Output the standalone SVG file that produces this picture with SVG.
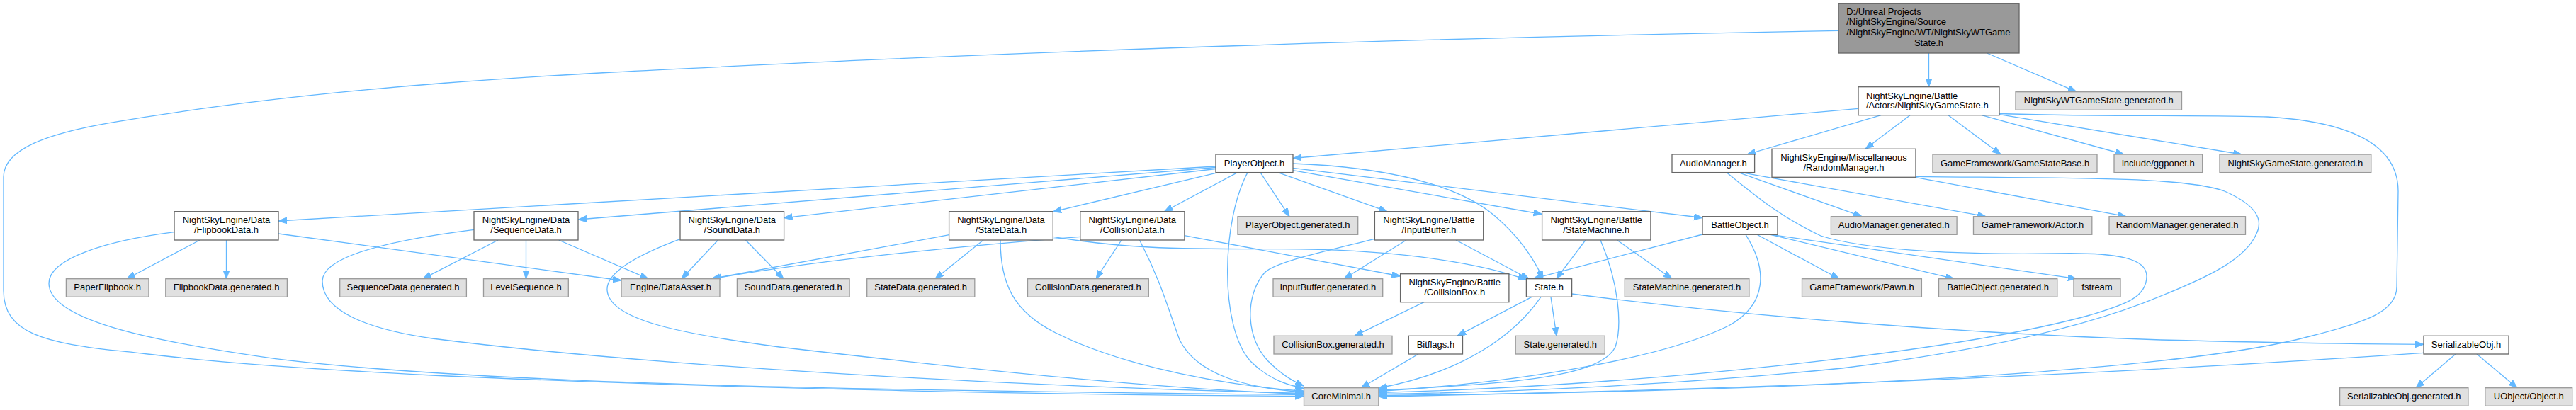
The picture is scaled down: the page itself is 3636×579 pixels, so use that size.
<svg xmlns="http://www.w3.org/2000/svg" width="3636" height="579" viewBox="0 0 3636 579">
<style>
.e path{fill:none;stroke:#63b8ff;stroke-width:1.3;marker-end:url(#a)}
.w rect{fill:#ffffff;stroke:#666666;stroke-width:1.3}
.g rect{fill:#e0e0e0;stroke:#999999;stroke-width:1.3}
.r rect{fill:#999999;stroke:#666666;stroke-width:1.3}
text{font-family:"Liberation Sans",Arial,sans-serif;font-size:13px;fill:#000000}
.m{text-anchor:middle}
</style>
<defs>
<marker id="a" markerUnits="userSpaceOnUse" markerWidth="13" markerHeight="10" refX="12" refY="4.5" orient="auto" viewBox="0 0 13 10">
<path d="M0,0L12,4.5L0,9z" fill="#63b8ff" stroke="#63b8ff" stroke-width="1"/>
</marker>
</defs>
<rect width="3636" height="579" fill="#ffffff"/>
<g id="connectors" class="e">
<path d="M2722.5,75 L2722.5,122.7"/>
<path d="M2804.6,75 L2931,129.7"/>
<path d="M2595,43.3 C2130,51.7 1665,64.8 1200,85.7 C852,102.4 503.6,114.1 155.6,173.3 C70,188 5,210 5,250 L5,410 C5,470 60,485 179,496.7 C240,503 300,514 610,530 C1000,548 1500,558 1840.5,559.5"/>
<path d="M2623,153.3 L1825,223.5"/>
<path d="M2655,162.7 L2466,218"/>
<path d="M2696,162.7 L2633,210.3"/>
<path d="M2750,162.7 L2824,218"/>
<path d="M2797,162.7 L2998,218"/>
<path d="M2822,161.7 L3164,218"/>
<path d="M2822,160.5 C2950,165 3100,162 3200,165 C3320,172 3385,205 3385,270 L3383,405 C3383,440 3340,455 3260,475 C3150,505 2800,550 1946,558.5"/>
<path d="M1716,235 L393,312"/>
<path d="M1716,236.5 L816,310"/>
<path d="M1716,238.5 L1106.5,307.7"/>
<path d="M1719.4,243.6 L1486.3,299"/>
<path d="M1746.6,243.6 L1643.5,298.7"/>
<path d="M1779,243.6 L1820,305.7"/>
<path d="M1761,243.6 C1725,310 1720,460 1765,510 C1790,535 1815,543 1840,548.5"/>
<path d="M1804,243.6 L1958,298.7"/>
<path d="M1825,240.7 L2176.6,302.5"/>
<path d="M1825,237.3 L2403,307.5"/>
<path d="M1825,231 C1960,236 2060,262 2110,305 C2145,335 2165,365 2178,393.7"/>
<path d="M282,339 L179,393.7"/>
<path d="M319.5,339 L319.5,393.7"/>
<path d="M393,330 L877,396"/>
<path d="M246,327.7 C150,340 69,365 69,400 C69,450 200,480 389,506.7 C700,545 1300,552 1840.5,557.5"/>
<path d="M703,339 L597,393.7"/>
<path d="M742.5,339 L742.5,393.7"/>
<path d="M788.7,339 L915,393.7"/>
<path d="M669,324.3 C560,338 455,360 455,397 C455,440 520,465 610,478 C900,515 1400,545 1840.5,555.5"/>
<path d="M1013.5,339 L962,393.7"/>
<path d="M1052.4,339 L1106,393.7"/>
<path d="M960,337.7 C900,360 855,385 857,410 C860,450 950,470 1100,490 C1400,525 1650,550 1840.5,556.5"/>
<path d="M1339.6,331.7 L1004,393.7"/>
<path d="M1388,339 L1320,393.7"/>
<path d="M1486.3,334.3 C1580,350 1650,352 1800,351.7 C1950,351 2080,368 2154.4,395"/>
<path d="M1412,339 C1412,400 1430,440 1490,470 C1560,505 1680,540 1840.5,552.5"/>
<path d="M1524.8,334.3 C1350,348 1150,368 1006,393.7"/>
<path d="M1583,339 L1547,393.7"/>
<path d="M1671.9,332.7 L1976.6,390"/>
<path d="M1608.5,339 C1640,400 1650,440 1665,480 C1690,530 1760,548 1840.5,554"/>
<path d="M1985,339 L1897,393.7"/>
<path d="M2055,339 L2158,393.7"/>
<path d="M1940.4,337.3 C1870,355 1800,370 1785,385 C1755,420 1760,480 1790,510 C1810,530 1825,538 1840,545"/>
<path d="M2238,339 L2196.8,393.7"/>
<path d="M2282.4,339 L2360,393.7"/>
<path d="M2259,339 C2285,400 2290,460 2280,490 C2260,530 2150,542 1946,551"/>
<path d="M2403,331 L2164,393.7"/>
<path d="M2480,331.3 L2596,393.7"/>
<path d="M2499,331.3 L2758,393.7"/>
<path d="M2500,331.3 L2931,393.7"/>
<path d="M2464,331.3 C2495,380 2495,430 2440,460 C2350,505 2150,540 1946,552.5"/>
<path d="M2218.6,415 C2450,445 2750,470 3050,480 C3250,485 3350,486 3421,486.3"/>
<path d="M2162,419.3 L2057,474.3"/>
<path d="M2189,419.3 L2197,474.3"/>
<path d="M2175,419.3 C2140,470 2070,525 1946,548"/>
<path d="M2002,500 L1921,547.7"/>
<path d="M2010,426.7 L1912,474.3"/>
<path d="M2454,243.6 L2628,305.7"/>
<path d="M2458,243.6 L2803,305.7"/>
<path d="M2437,243.6 C2470,270 2510,305 2570,333 C2630,352 2750,360 2900,358 C2990,356 3030,365 3030,390 C3030,420 3000,430 2950,445 C2750,500 2300,545 1946,554.5"/>
<path d="M2703,250.3 L3001,305.7"/>
<path d="M2704,249.3 C2900,252 3080,248 3140,270 C3185,290 3195,310 3185,330 C3170,365 3120,390 3050,418 C2950,460 2800,495 2600,520 C2350,545 2100,555 1946,556.5"/>
<path d="M3466,500 L3410,547.7"/>
<path d="M3496,500 L3553,547.7"/>
<path d="M3421,498.3 C3100,520 2600,548 1946,560"/>
</g>
<g id="n0" class="r"><rect x="2595" y="4.7" width="255" height="70.3"/><text x="2606.2" y="20.7">D:/Unreal Projects</text><text x="2606.2" y="35.4">/NightSkyEngine/Source</text><text x="2606.2" y="50">/NightSkyEngine/WT/NightSkyWTGame</text><text class="m" x="2722.5" y="64.7">State.h</text></g>
<g id="n1" class="w"><rect x="2623" y="122.7" width="199" height="40"/><text x="2634" y="139.7">NightSkyEngine/Battle</text><text x="2634" y="153">/Actors/NightSkyGameState.h</text></g>
<g id="n2" class="g"><rect x="2845" y="129.7" width="234.5" height="25.6"/><text class="m" x="2962.3" y="146.4">NightSkyWTGameState.generated.h</text></g>
<g id="n3" class="w"><rect x="1716" y="218" width="109" height="25.6"/><text class="m" x="1770.5" y="234.5">PlayerObject.h</text></g>
<g id="n4" class="w"><rect x="2360" y="218" width="116.6" height="25.6"/><text class="m" x="2418.3" y="234.5">AudioManager.h</text></g>
<g id="n5" class="w"><rect x="2501" y="210.3" width="203" height="40"/><text class="m" x="2602.5" y="227.2">NightSkyEngine/Miscellaneous</text><text class="m" x="2602.5" y="240.6">/RandomManager.h</text></g>
<g id="n6" class="g"><rect x="2728" y="218" width="232" height="25.6"/><text class="m" x="2844" y="234.5">GameFramework/GameStateBase.h</text></g>
<g id="n7" class="g"><rect x="2984" y="218" width="124.7" height="25.6"/><text class="m" x="3046.3" y="234.5">include/ggponet.h</text></g>
<g id="n8" class="g"><rect x="3133" y="218" width="213.8" height="25.6"/><text class="m" x="3239.9" y="234.5">NightSkyGameState.generated.h</text></g>
<g id="n9" class="w"><rect x="246" y="298.7" width="147" height="40.3"/><text class="m" x="319.5" y="315.4">NightSkyEngine/Data</text><text class="m" x="319.5" y="329">/FlipbookData.h</text></g>
<g id="n10" class="w"><rect x="669" y="298.7" width="147" height="40.3"/><text class="m" x="742.5" y="315.4">NightSkyEngine/Data</text><text class="m" x="742.5" y="329">/SequenceData.h</text></g>
<g id="n11" class="w"><rect x="960" y="298.7" width="146.6" height="40.3"/><text class="m" x="1033.3" y="315.4">NightSkyEngine/Data</text><text class="m" x="1033.3" y="329">/SoundData.h</text></g>
<g id="n12" class="w"><rect x="1339.6" y="298.7" width="146.7" height="40.3"/><text class="m" x="1413" y="315.4">NightSkyEngine/Data</text><text class="m" x="1413" y="329">/StateData.h</text></g>
<g id="n13" class="w"><rect x="1524.8" y="298.7" width="147.1" height="40.3"/><text class="m" x="1598.3" y="315.4">NightSkyEngine/Data</text><text class="m" x="1598.3" y="329">/CollisionData.h</text></g>
<g id="n14" class="g"><rect x="1747" y="305.7" width="169.7" height="25.6"/><text class="m" x="1831.8" y="322.2">PlayerObject.generated.h</text></g>
<g id="n15" class="w"><rect x="1940.4" y="298.7" width="153.3" height="40.3"/><text class="m" x="2017" y="315.4">NightSkyEngine/Battle</text><text class="m" x="2017" y="329">/InputBuffer.h</text></g>
<g id="n16" class="w"><rect x="2176.6" y="298.7" width="153.3" height="40.3"/><text class="m" x="2253.2" y="315.4">NightSkyEngine/Battle</text><text class="m" x="2253.2" y="329">/StateMachine.h</text></g>
<g id="n17" class="w"><rect x="2403" y="305.7" width="106" height="25.6"/><text class="m" x="2456" y="322.2">BattleObject.h</text></g>
<g id="n18" class="g"><rect x="2584.4" y="305.7" width="177.7" height="25.6"/><text class="m" x="2673.2" y="322.2">AudioManager.generated.h</text></g>
<g id="n19" class="g"><rect x="2785.5" y="305.7" width="167.3" height="25.6"/><text class="m" x="2869.1" y="322.2">GameFramework/Actor.h</text></g>
<g id="n20" class="g"><rect x="2977" y="305.7" width="192.5" height="25.6"/><text class="m" x="3073.2" y="322.2">RandomManager.generated.h</text></g>
<g id="n21" class="g"><rect x="93.4" y="393.7" width="116.6" height="25.6"/><text class="m" x="151.7" y="410.2">PaperFlipbook.h</text></g>
<g id="n22" class="g"><rect x="233.8" y="393.7" width="171.6" height="25.6"/><text class="m" x="319.6" y="410.2">FlipbookData.generated.h</text></g>
<g id="n23" class="g"><rect x="479.7" y="393.7" width="178.7" height="25.6"/><text class="m" x="569" y="410.2">SequenceData.generated.h</text></g>
<g id="n24" class="g"><rect x="682.5" y="393.7" width="119.8" height="25.6"/><text class="m" x="742.4" y="410.2">LevelSequence.h</text></g>
<g id="n25" class="g"><rect x="877" y="393.7" width="139" height="25.6"/><text class="m" x="946.5" y="410.2">Engine/DataAsset.h</text></g>
<g id="n26" class="g"><rect x="1040.4" y="393.7" width="158.7" height="25.6"/><text class="m" x="1119.7" y="410.2">SoundData.generated.h</text></g>
<g id="n27" class="g"><rect x="1223.7" y="393.7" width="152.1" height="25.6"/><text class="m" x="1299.7" y="410.2">StateData.generated.h</text></g>
<g id="n28" class="g"><rect x="1450.5" y="393.7" width="170.8" height="25.6"/><text class="m" x="1535.9" y="410.2">CollisionData.generated.h</text></g>
<g id="n29" class="g"><rect x="1797" y="393.7" width="154.7" height="25.6"/><text class="m" x="1874.3" y="410.2">InputBuffer.generated.h</text></g>
<g id="n30" class="w"><rect x="1976.6" y="386.7" width="153.3" height="40"/><text class="m" x="2053.2" y="403.4">NightSkyEngine/Battle</text><text class="m" x="2053.2" y="417">/CollisionBox.h</text></g>
<g id="n31" class="w"><rect x="2154.4" y="393.7" width="64.2" height="25.6"/><text class="m" x="2186.5" y="410.2">State.h</text></g>
<g id="n32" class="g"><rect x="2293.3" y="393.7" width="175.6" height="25.6"/><text class="m" x="2381.1" y="410.2">StateMachine.generated.h</text></g>
<g id="n33" class="g"><rect x="2543.5" y="393.7" width="168.9" height="25.6"/><text class="m" x="2628" y="410.2">GameFramework/Pawn.h</text></g>
<g id="n34" class="g"><rect x="2736.5" y="393.7" width="167.3" height="25.6"/><text class="m" x="2820.2" y="410.2">BattleObject.generated.h</text></g>
<g id="n35" class="g"><rect x="2927" y="393.7" width="66" height="25.6"/><text class="m" x="2960" y="410.2">fstream</text></g>
<g id="n36" class="g"><rect x="1798" y="474.3" width="167" height="25.7"/><text class="m" x="1881.5" y="490.8">CollisionBox.generated.h</text></g>
<g id="n37" class="w"><rect x="1988.3" y="474.3" width="76.2" height="25.7"/><text class="m" x="2026.4" y="490.8">Bitflags.h</text></g>
<g id="n38" class="g"><rect x="2139.2" y="474.3" width="126.1" height="25.7"/><text class="m" x="2202.3" y="490.8">State.generated.h</text></g>
<g id="n39" class="w"><rect x="3421" y="474.3" width="120" height="25.7"/><text class="m" x="3481" y="490.8">SerializableObj.h</text></g>
<g id="n40" class="g"><rect x="1840.5" y="547.7" width="105.4" height="25.6"/><text class="m" x="1893.2" y="564.2">CoreMinimal.h</text></g>
<g id="n41" class="g"><rect x="3302.6" y="547.7" width="181.3" height="25.6"/><text class="m" x="3393.3" y="564.2">SerializableObj.generated.h</text></g>
<g id="n42" class="g"><rect x="3507.8" y="547.7" width="122.9" height="25.6"/><text class="m" x="3569.3" y="564.2">UObject/Object.h</text></g>
</svg>
